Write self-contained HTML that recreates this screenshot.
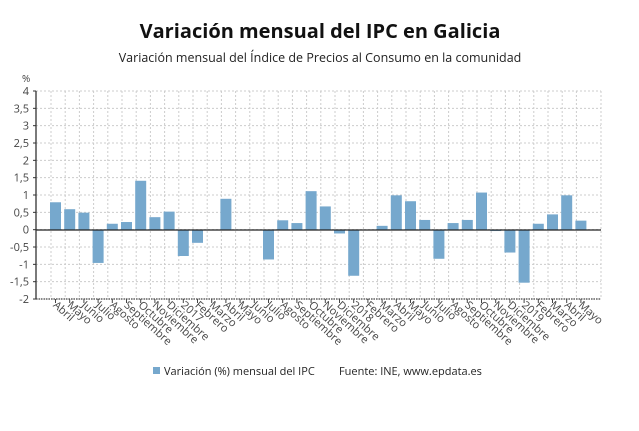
<!DOCTYPE html>
<html><head><meta charset="utf-8"><style>
body{margin:0;background:#fff;}
svg{display:block;font-family:"Open Sans","DejaVu Sans","Liberation Sans",sans-serif;}
</style></head><body>
<svg width="639" height="431" viewBox="0 0 639 431" xmlns="http://www.w3.org/2000/svg">
<rect width="639" height="431" fill="#fff"/>
<text x="320" y="38" text-anchor="middle" font-size="20" font-weight="bold" fill="#111">Variación mensual del IPC en Galicia</text>
<text x="320" y="62" text-anchor="middle" font-size="12.5" fill="#222">Variación mensual del Índice de Precios al Consumo en la comunidad</text>
<text x="22" y="82" font-size="10" fill="#444">%</text>
<g id="grid" stroke="#ccc" stroke-width="1" stroke-dasharray="2,2" fill="none"></g>
<g id="bars" fill="#76a8cd"></g>
<line x1="36" y1="230" x2="601" y2="230" stroke="#222" stroke-width="1.3"/>
<line x1="36" y1="91" x2="36" y2="299" stroke="#333" stroke-width="1.3"/>
<line x1="36" y1="299" x2="601" y2="299" stroke="#444" stroke-width="1.3" stroke-dasharray="1.5,1"/>
<g id="ylab" font-size="11" fill="#444" text-anchor="end"></g>
<g id="xlab" font-size="11" fill="#444"></g>
<rect x="153" y="367" width="7" height="7" fill="#76a8cd"/>
<text x="164" y="375" font-size="11" fill="#222">Variación (%) mensual del IPC</text>
<text x="339" y="375" font-size="11" fill="#222">Fuente: INE, www.epdata.es</text>
<script>
var ns="http://www.w3.org/2000/svg";
function el(t,a,p,txt){var e=document.createElementNS(ns,t);for(var k in a)e.setAttribute(k,a[k]);if(txt!==undefined)e.textContent=txt;document.getElementById(p).appendChild(e);}
var v=[0.8,0.6,0.5,-0.95,0.18,0.23,1.42,0.37,0.53,-0.75,-0.37,0,0.9,0,0,-0.85,0.28,0.2,1.12,0.68,-0.1,-1.32,0,0.12,1.0,0.83,0.29,-0.83,0.2,0.29,1.08,-0.03,-0.65,-1.52,0.18,0.45,1.0,0.27];
var L=["Abril","Mayo","Junio","Julio","Agosto","Septiembre","Octubre","Noviembre","Diciembre","2017","Febrero","Marzo","Abril","Mayo","Junio","Julio","Agosto","Septiembre","Octubre","Noviembre","Diciembre","2018","Febrero","Marzo","Abril","Mayo","Junio","Julio","Agosto","Septiembre","Octubre","Noviembre","Diciembre","2019","Febrero","Marzo","Abril","Mayo"];
var s=34.67,z=230;
for(var i=0;i<=12;i++){var y=91+i*s/2;el("line",{x1:36,y1:y,x2:601,y2:y},"grid");
var val=4-i*0.5;var t=(val+"").replace(".",",");el("text",{x:29,y:y+4},"ylab",t);
el("line",{x1:33,y1:y,x2:36,y2:y,stroke:"#333","stroke-dasharray":"none"},"grid");}
for(var i=0;i<38;i++){var c=55.5+i*14.2;
el("line",{x1:c-4.5,y1:91,x2:c-4.5,y2:299},"grid");
var h=v[i]*s;
if(Math.abs(h)>0.3)el("rect",{x:c-5.5,y:h>0?z-h:z,width:11,height:Math.abs(h)},"bars");
el("line",{x1:c,y1:299,x2:c,y2:303,stroke:"#444","stroke-dasharray":"none"},"grid");
el("text",{x:0,y:0,transform:"translate("+(c-3)+",306) rotate(42)"},"xlab",L[i]);}
el("line",{x1:601,y1:91,x2:601,y2:299},"grid");
</script>
</svg>
</body></html>
